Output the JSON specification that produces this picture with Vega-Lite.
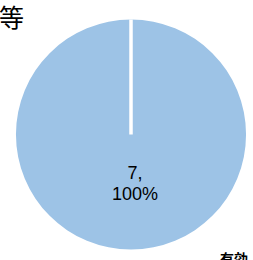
{
  "$schema": "https://vega.github.io/schema/vega-lite/v6.json",
  "autosize": "none",
  "width": 244,
  "height": 251,
  "padding": {"left": 9, "top": 9, "right": 0, "bottom": 0},
  "background": "white",
  "data": {"values": [{"category": "有効", "value": 7, "label": "7,\n100%", "title": "等"}]},
  "view": {"stroke": null},
  "layer": [
    {
      "mark": {"type": "arc", "outerRadius": 115, "stroke": null},
      "encoding": {
        "theta": {"field": "value", "type": "quantitative", "stack": true},
        "color": {
          "field": "category",
          "type": "nominal",
          "scale": {"range": ["#9DC3E6"]},
          "legend": {
            "orient": "none",
            "legendX": 197,
            "legendY": 244,
            "title": null,
            "symbolSize": 0,
            "symbolOpacity": 0,
            "labelOffset": 0,
            "labelFont": "Noto Sans CJK JP",
            "labelFontSize": 14,
            "labelFontWeight": "bold",
            "labelColor": "black",
            "labelLimit": 0
          }
        }
      }
    },
    {
      "mark": {"type": "arc", "outerRadius": 115, "theta": 0, "theta2": 0, "stroke": "white", "strokeWidth": 3.5, "fill": null},
      "encoding": {}
    },
    {
      "mark": {"type": "text", "radius": 39, "fontSize": 18, "font": "Liberation Sans", "lineBreak": "\n", "lineHeight": 21, "dx": 4, "color": "black"},
      "encoding": {
        "theta": {"field": "value", "type": "quantitative", "stack": true},
        "text": {"field": "label"}
      }
    },
    {
      "mark": {"type": "text", "align": "left", "baseline": "top", "font": "Noto Sans CJK JP", "fontSize": 25, "color": "black", "dx": -10, "dy": -2},
      "encoding": {
        "x": {"value": 0},
        "y": {"value": 0},
        "text": {"field": "title"}
      }
    }
  ]
}
